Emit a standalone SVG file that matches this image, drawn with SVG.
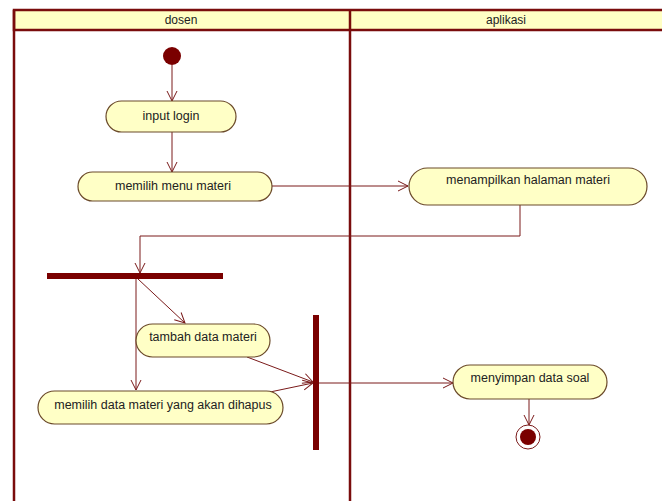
<svg xmlns="http://www.w3.org/2000/svg" width="662" height="501" viewBox="0 0 662 501">
  <style>
    .lane { fill: none; stroke: #7a0c0c; stroke-width: 2.5; }
    .hdr { fill: #ffffc4; stroke: #7a0c0c; stroke-width: 2.5; }
    .act { fill: #ffffc6; stroke: #6b4a2a; stroke-width: 1.2; }
    .bar { fill: #7a0000; }
    .flow { fill: none; stroke: #7a1a1a; stroke-width: 1; }
    text { font-family: "Liberation Sans", Arial, sans-serif; font-size: 12.5px; fill: #222; text-anchor: middle; }
    .hdr-text { font-size: 12px; }
  </style>
  <defs>
    <marker id="open" viewBox="0 0 12 12" refX="11" refY="6" markerWidth="12" markerHeight="12" markerUnits="userSpaceOnUse" orient="auto">
      <path d="M1,1 L11,6 L1,11" fill="none" stroke="#7a1a1a" stroke-width="1"/>
    </marker>
  </defs>
  <rect width="662" height="501" fill="#ffffff"/>

  <!-- swimlanes -->
  <g id="lanes">
    <rect class="hdr" x="14" y="10" width="660" height="20"/>
    <line class="lane" x1="14" y1="10" x2="14" y2="505"/>
    <line class="lane" x1="350" y1="10" x2="350" y2="505"/>
    <text class="hdr-text" x="181" y="24">dosen</text>
    <text class="hdr-text" x="506" y="24">aplikasi</text>
  </g>

  <!-- connectors -->
  <g id="connectors">
    <line class="flow" x1="172" y1="65" x2="172" y2="101" marker-end="url(#open)"/>
    <line class="flow" x1="172" y1="132" x2="172" y2="172" marker-end="url(#open)"/>
    <line class="flow" x1="272" y1="186" x2="408" y2="186" marker-end="url(#open)"/>
    <polyline class="flow" points="520,205 520,236 140,236 140,273" marker-end="url(#open)"/>
    <line class="flow" x1="138" y1="279" x2="185" y2="323" marker-end="url(#open)"/>
    <line class="flow" x1="136" y1="279" x2="136" y2="390" marker-end="url(#open)"/>
    <line class="flow" x1="247" y1="357" x2="313" y2="382" marker-end="url(#open)"/>
    <line class="flow" x1="270" y1="392" x2="313" y2="383" marker-end="url(#open)"/>
    <line class="flow" x1="319" y1="383" x2="453" y2="383" marker-end="url(#open)"/>
    <line class="flow" x1="529" y1="399" x2="529" y2="425" marker-end="url(#open)"/>
  </g>

  <!-- nodes -->
  <g id="start">
    <circle cx="172" cy="56" r="9" fill="#7a0000"/>
  </g>
  <g id="input-login">
    <rect class="act" x="106" y="101" width="130" height="31" rx="15.5"/>
    <text x="171" y="120">input login</text>
  </g>
  <g id="memilih-menu-materi">
    <rect class="act" x="78" y="172" width="194" height="29" rx="14.5"/>
    <text x="173" y="190">memilih menu materi</text>
  </g>
  <g id="menampilkan-halaman-materi">
    <rect class="act" x="409" y="168" width="238" height="37" rx="18.5"/>
    <text x="528" y="184">menampilkan halaman materi</text>
  </g>
  <g id="fork">
    <rect class="bar" x="47" y="273" width="176" height="6"/>
  </g>
  <g id="tambah-data-materi">
    <rect class="act" x="136" y="324" width="134" height="33" rx="16.5"/>
    <text x="203" y="341">tambah data materi</text>
  </g>
  <g id="memilih-data-materi">
    <rect class="act" x="38" y="391" width="245" height="33" rx="16.5"/>
    <text x="163" y="409">memilih data materi yang akan dihapus</text>
  </g>
  <g id="join">
    <rect class="bar" x="313" y="315" width="6" height="135"/>
  </g>
  <g id="menyimpan-data-soal">
    <rect class="act" x="453" y="365" width="154" height="34" rx="17"/>
    <text x="530" y="382">menyimpan data soal</text>
  </g>
  <g id="end">
    <circle cx="528" cy="437" r="12" fill="#ffffff" stroke="#7a1a1a" stroke-width="1"/>
    <circle cx="528" cy="437" r="8" fill="#7a0000"/>
  </g>
</svg>
